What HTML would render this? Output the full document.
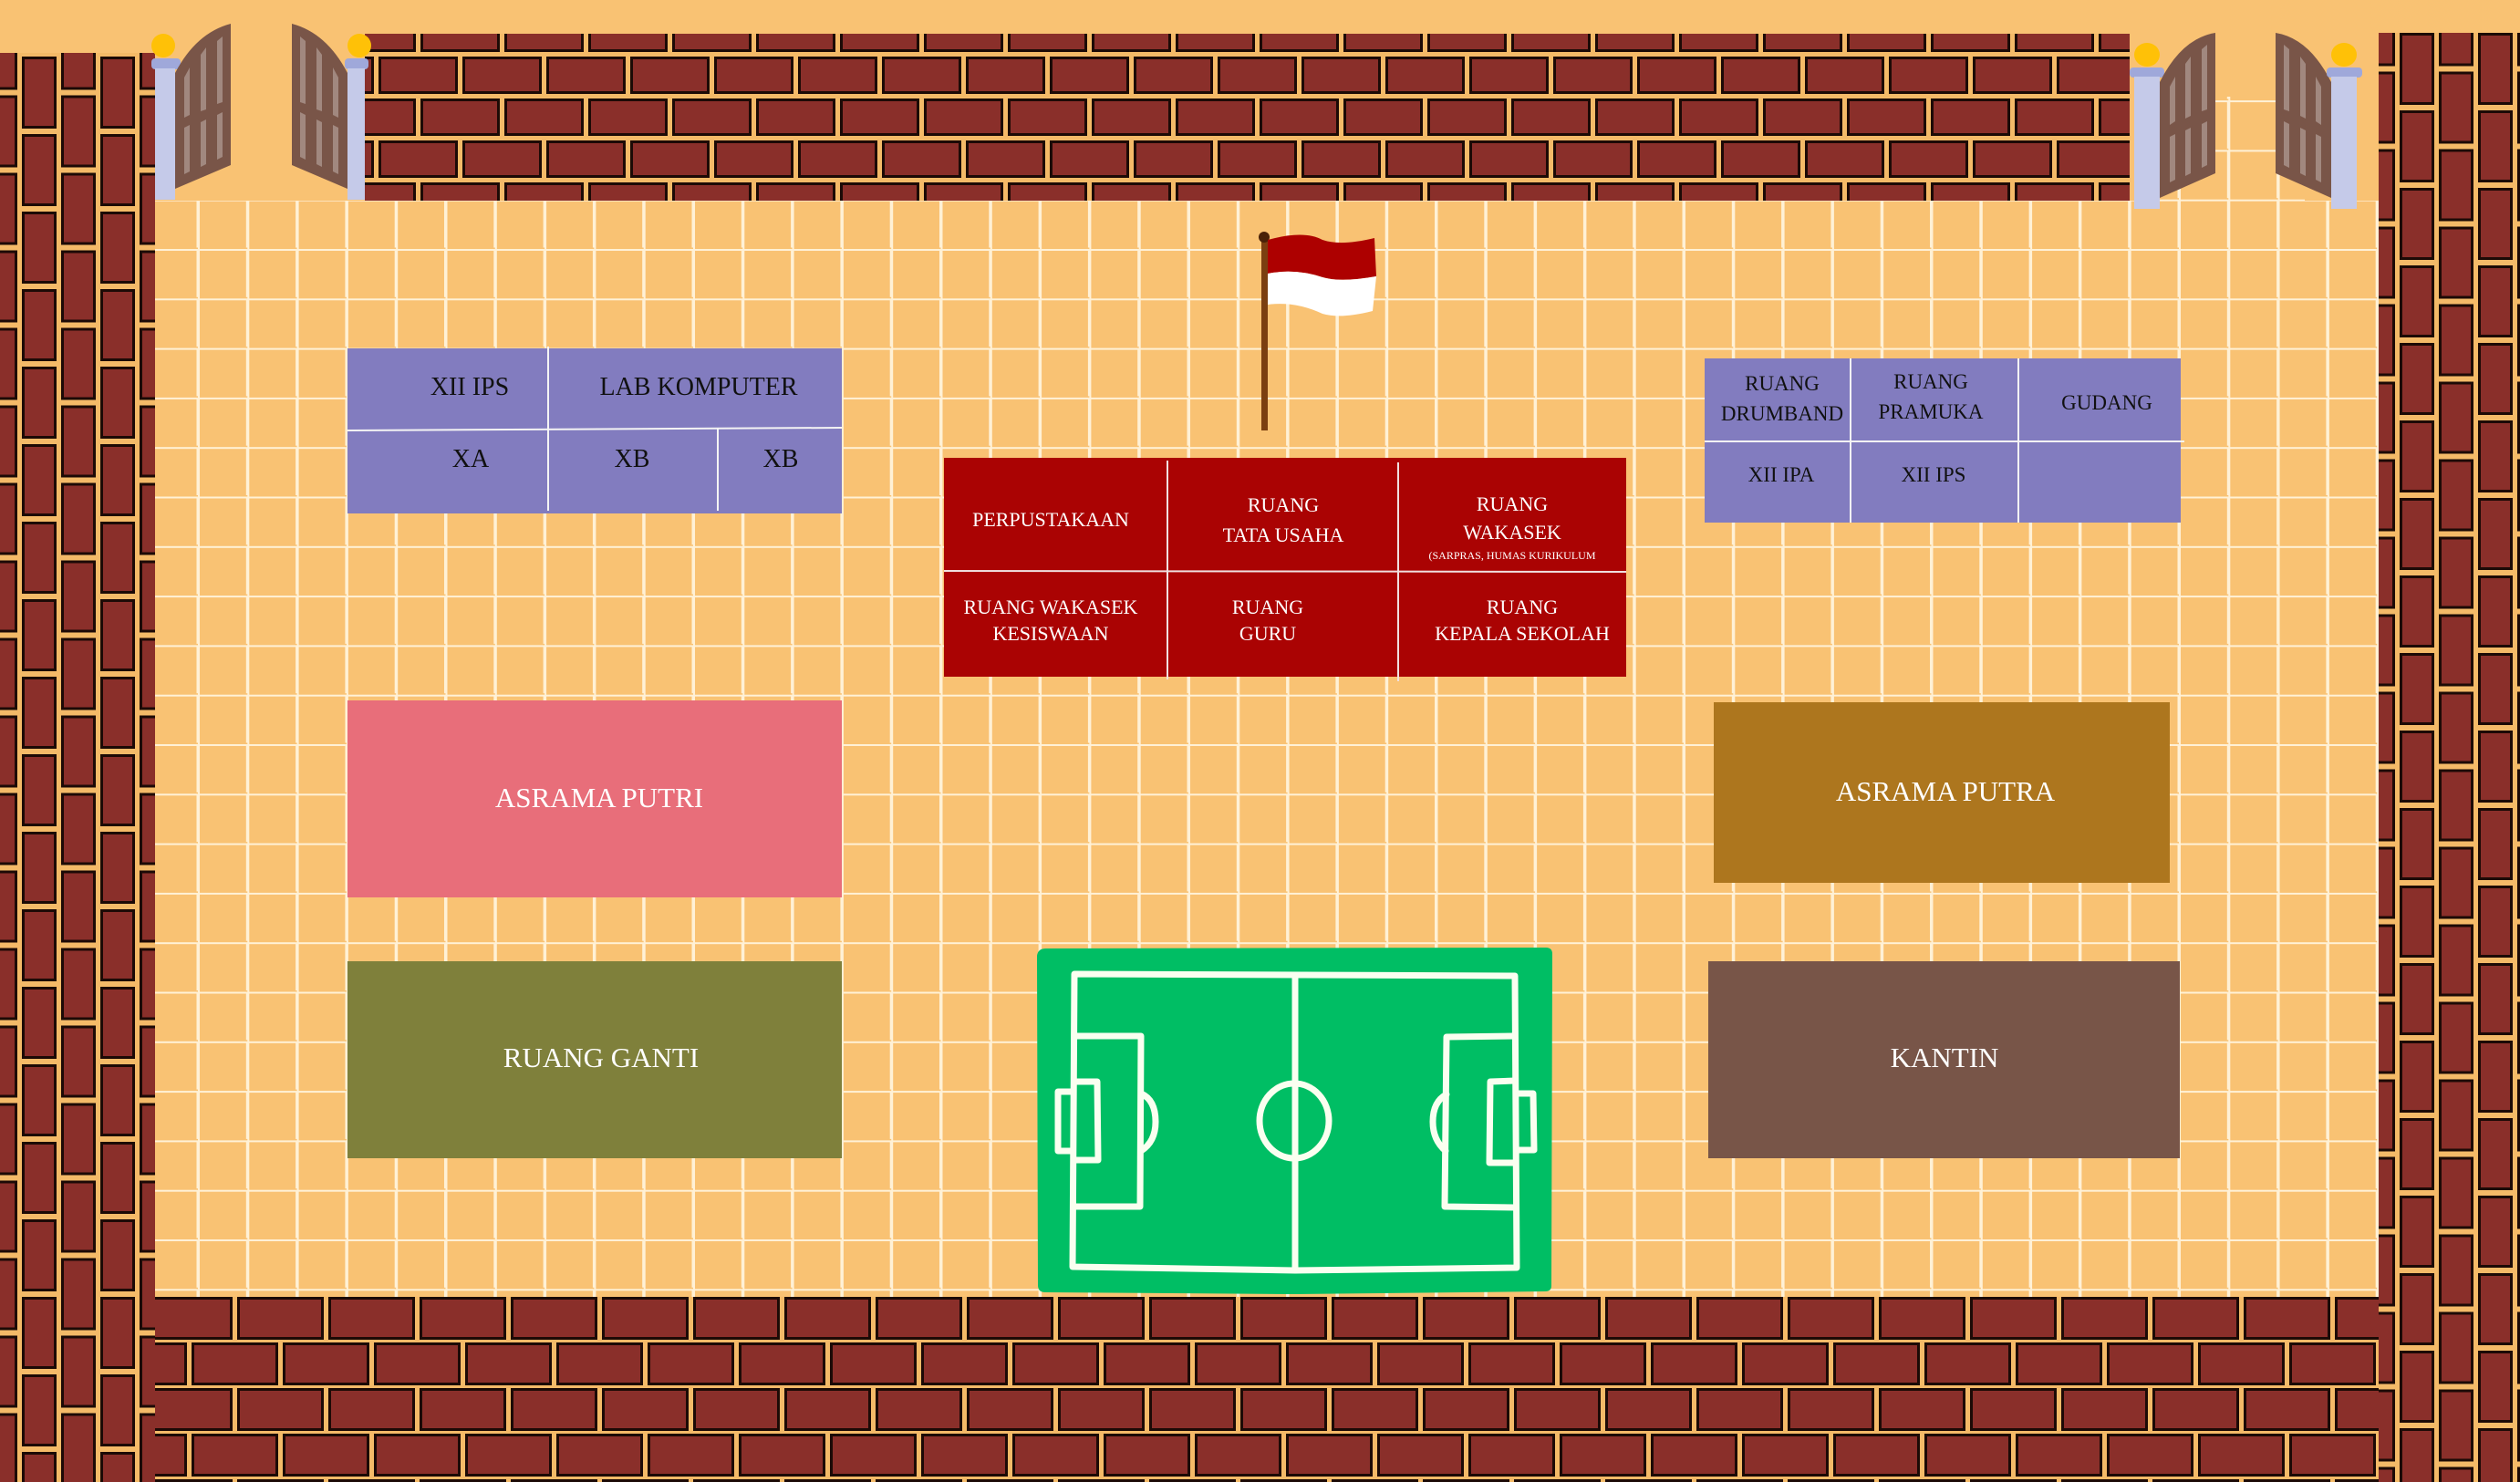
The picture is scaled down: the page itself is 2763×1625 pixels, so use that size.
<!DOCTYPE html>
<html><head><meta charset="utf-8"><style>
html,body{margin:0;padding:0;background:#F9C273;}
svg{display:block}
text{font-family:"Liberation Serif",serif;}
</style></head><body>
<svg width="2763" height="1625" viewBox="0 0 2763 1625" xmlns="http://www.w3.org/2000/svg">
<defs>
<pattern id="grid" x="217" y="273" width="54.3" height="54.3" patternUnits="userSpaceOnUse">
<rect x="0" y="0" width="54.3" height="54.3" fill="#F9C273"/>
<rect x="-1.5" y="0" width="3.5" height="54.3" fill="#FFF1D6"/>
<rect x="0" y="-1.5" width="54.3" height="3.5" fill="#FFF1D6"/>
<rect x="-1.5" y="52.8" width="3.5" height="3" fill="#FFF1D6"/>
<rect x="52.8" y="-1.5" width="3" height="54.3" fill="#FFF1D6"/>
</pattern>
<pattern id="hb" x="415" y="62" width="92" height="92" patternUnits="userSpaceOnUse">
<rect width="92" height="92" fill="#F4BA68"/>
<g fill="#8A2F2A" stroke="#1c0a06" stroke-width="3">
<rect x="1.5" y="1.5" width="84" height="38"/>
<rect x="-44.5" y="47.5" width="84" height="38"/>
<rect x="47.5" y="47.5" width="84" height="38"/>
</g>
</pattern>
<pattern id="vb" x="24" y="62" width="86" height="85" patternUnits="userSpaceOnUse">
<rect width="86" height="85" fill="#F4BA68"/>
<g fill="#8A2F2A" stroke="#1c0a06" stroke-width="3">
<rect x="1.5" y="1.5" width="35" height="76"/>
<rect x="44.5" y="-41" width="35" height="76"/>
<rect x="44.5" y="44" width="35" height="76"/>
</g>
</pattern>
<pattern id="vb2" x="2631" y="36" width="86" height="85" patternUnits="userSpaceOnUse">
<rect width="86" height="85" fill="#F4BA68"/>
<g fill="#8A2F2A" stroke="#1c0a06" stroke-width="3">
<rect x="1.5" y="1.5" width="35" height="76"/>
<rect x="44.5" y="-41" width="35" height="76"/>
<rect x="44.5" y="44" width="35" height="76"/>
</g>
</pattern>
<pattern id="hb2" x="160" y="1422" width="100" height="100" patternUnits="userSpaceOnUse">
<rect width="100" height="100" fill="#F4BA68"/>
<g fill="#8A2F2A" stroke="#1c0a06" stroke-width="3">
<rect x="1.5" y="1.5" width="92" height="44"/>
<rect x="-48.5" y="51.5" width="92" height="44"/>
<rect x="51.5" y="51.5" width="92" height="44"/>
</g>
</pattern>
</defs>
<rect width="2763" height="1625" fill="#F9C273"/>
<!-- grid -->
<rect x="170" y="220" width="2438" height="1202" fill="url(#grid)"/>
<rect x="2368" y="106" width="159" height="114" fill="url(#grid)"/>
<!-- walls -->
<rect x="400" y="37" width="1935" height="183" fill="url(#hb)"/>
<rect x="0" y="58" width="170" height="1567" fill="url(#vb)"/>
<rect x="2608" y="36" width="155" height="1589" fill="url(#vb2)"/>
<rect x="170" y="1422" width="2438" height="203" fill="url(#hb2)"/>

<!-- left gate -->
<g>
<ellipse cx="179" cy="50" rx="13" ry="13" fill="#FFC107"/>
<rect x="166" y="64" width="32" height="12" rx="4" fill="#9FA8DA"/>
<rect x="170" y="75" width="22" height="144" fill="#C5CAE9"/>
<path d="M192 80 Q215 36 253 26 L253 181 L192 207 Z" fill="#795548"/>
<g fill="#A1887F"><path d="M202 85 L208 74 L208 126 L202 129Z"/><path d="M220 60 L226 52 L226 120 L220 122Z"/><path d="M238 45 L244 40 L244 112 L238 114Z"/>
<path d="M202 140 L208 137 L208 188 L202 191Z"/><path d="M220 134 L226 131 L226 180 L220 183Z"/><path d="M238 126 L244 123 L244 172 L238 175Z"/></g>
<path d="M381 80 Q358 36 320 26 L320 181 L381 207 Z" fill="#795548"/>
<g fill="#A1887F"><path d="M371 85 L365 74 L365 126 L371 129Z"/><path d="M353 60 L347 52 L347 120 L353 122Z"/><path d="M335 45 L329 40 L329 112 L335 114Z"/>
<path d="M371 140 L365 137 L365 188 L371 191Z"/><path d="M353 134 L347 131 L347 180 L353 183Z"/><path d="M335 126 L329 123 L329 172 L335 175Z"/></g>
<ellipse cx="394" cy="50" rx="13" ry="13" fill="#FFC107"/>
<rect x="378" y="64" width="26" height="12" rx="4" fill="#9FA8DA"/>
<rect x="381" y="75" width="19" height="144" fill="#C5CAE9"/>
</g>
<!-- right gate -->
<g>
<ellipse cx="2354" cy="60" rx="14" ry="13" fill="#FFC107"/>
<rect x="2335" y="74" width="38" height="11" rx="4" fill="#9FA8DA"/>
<rect x="2340" y="84" width="28" height="145" fill="#C5CAE9"/>
<path d="M2368 90 Q2392 42 2429 36 L2429 190 L2368 217 Z" fill="#795548"/>
<g fill="#A1887F"><path d="M2379 95 L2385 84 L2385 133 L2379 137Z"/><path d="M2396 70 L2402 62 L2402 127 L2396 130Z"/><path d="M2414 54 L2420 49 L2420 120 L2414 122Z"/>
<path d="M2379 150 L2385 147 L2385 197 L2379 200Z"/><path d="M2396 143 L2402 140 L2402 190 L2396 193Z"/><path d="M2414 136 L2420 133 L2420 181 L2414 184Z"/></g>
<path d="M2556 90 Q2532 42 2495 36 L2495 190 L2556 217 Z" fill="#795548"/>
<g fill="#A1887F"><path d="M2545 95 L2539 84 L2539 133 L2545 137Z"/><path d="M2528 70 L2522 62 L2522 127 L2528 130Z"/><path d="M2510 54 L2504 49 L2504 120 L2510 122Z"/>
<path d="M2545 150 L2539 147 L2539 197 L2545 200Z"/><path d="M2528 143 L2522 140 L2522 190 L2528 193Z"/><path d="M2510 136 L2504 133 L2504 181 L2510 184Z"/></g>
<ellipse cx="2570" cy="60" rx="14" ry="13" fill="#FFC107"/>
<rect x="2551" y="74" width="39" height="11" rx="4" fill="#9FA8DA"/>
<rect x="2556" y="84" width="28" height="145" fill="#C5CAE9"/>
</g>

<!-- flag -->
<rect x="1383" y="260" width="7" height="212" fill="#7B3F10"/>
<circle cx="1386" cy="260" r="6" fill="#4A2208"/>
<path d="M1390 263 Q1430 252 1450 263 Q1470 270 1507 261 L1509 303 Q1470 310 1450 304 Q1420 294 1390 300 Z" fill="#AD0000"/>
<path d="M1390 300 Q1420 294 1450 304 Q1470 310 1509 303 L1505 341 Q1470 350 1450 344 Q1420 330 1390 334 Z" fill="#FFFFFF"/>

<!-- left purple -->
<rect x="381" y="382" width="542" height="181" fill="#827CBF"/>
<g stroke="#F4F4F4" stroke-width="2"><line x1="381" y1="472" x2="923" y2="469"/><line x1="601" y1="380" x2="601" y2="560"/><line x1="787" y1="470" x2="787" y2="560"/></g>
<g font-size="28" fill="#111" text-anchor="middle">
<text x="515" y="433">XII IPS</text><text x="766" y="433">LAB KOMPUTER</text>
<text x="516" y="512">XA</text><text x="693" y="512">XB</text><text x="856" y="512">XB</text>
</g>

<!-- right purple -->
<rect x="1869" y="393" width="522" height="180" fill="#827CBF"/>
<g stroke="#F4F4F4" stroke-width="2"><line x1="1869" y1="484" x2="2395" y2="484"/><line x1="2029" y1="393" x2="2029" y2="573"/><line x1="2213" y1="393" x2="2213" y2="573"/></g>
<g font-size="23" fill="#111" text-anchor="middle">
<text x="1954" y="428">RUANG</text><text x="1954" y="461">DRUMBAND</text>
<text x="2117" y="426">RUANG</text><text x="2117" y="459">PRAMUKA</text>
<text x="2310" y="449">GUDANG</text>
<text x="1953" y="528">XII IPA</text><text x="2120" y="528">XII IPS</text>
</g>

<!-- red block -->
<rect x="1035" y="502" width="748" height="240" fill="#AA0303"/>
<g stroke="#F0E0E0" stroke-width="2"><line x1="1035" y1="626" x2="1783" y2="627"/><line x1="1280" y1="505" x2="1280" y2="745"/><line x1="1533" y1="507" x2="1533" y2="747"/></g>
<g font-size="22" fill="#fff" text-anchor="middle">
<text x="1152" y="577">PERPUSTAKAAN</text>
<text x="1407" y="561">RUANG</text><text x="1407" y="594">TATA USAHA</text>
<text x="1658" y="560">RUANG</text><text x="1658" y="591">WAKASEK</text>
<text x="1658" y="613" font-size="12">(SARPRAS, HUMAS KURIKULUM</text>
<text x="1152" y="673">RUANG WAKASEK</text><text x="1152" y="702">KESISWAAN</text>
<text x="1390" y="673">RUANG</text><text x="1390" y="702">GURU</text>
<text x="1669" y="673">RUANG</text><text x="1669" y="702">KEPALA SEKOLAH</text>
</g>

<!-- colored blocks -->
<rect x="381" y="768" width="542" height="216" fill="#E86E7A"/>
<rect x="381" y="1054" width="542" height="216" fill="#7F803B"/>
<rect x="1879" y="770" width="500" height="198" fill="#AD761E"/>
<rect x="1873" y="1054" width="517" height="216" fill="#785548"/>
<g font-size="31" fill="#fff" text-anchor="middle">
<text x="657" y="885">ASRAMA PUTRI</text>
<text x="659" y="1170">RUANG GANTI</text>
<text x="2133" y="878">ASRAMA PUTRA</text>
<text x="2132" y="1170">KANTIN</text>
</g>

<!-- field -->
<path d="M1147 1040 L1695 1039 Q1702 1039 1702 1046 L1701 1410 Q1701 1416 1694 1416 L1420 1419 L1146 1417 Q1138 1417 1138 1409 L1137 1048 Q1138 1040 1147 1040 Z" fill="#00BE64"/>
<g fill="none" stroke="#FAFFF0" stroke-width="7" stroke-linejoin="round" stroke-linecap="round">
<path d="M1178 1068 L1661 1070 L1663 1390 L1420 1393 L1176 1389 Z"/>
<line x1="1420" y1="1069" x2="1420" y2="1392"/>
<ellipse cx="1419" cy="1229" rx="38" ry="41"/>
<path d="M1178 1136 L1251 1136 L1250 1323 L1177 1323"/>
<path d="M1178 1186 L1203 1186 L1204 1272 L1178 1272"/>
<path d="M1176 1197 L1160 1197 L1160 1262 L1176 1262"/>
<path d="M1251 1199 Q1267 1206 1267 1230 Q1267 1252 1251 1262"/>
<path d="M1661 1136 L1586 1137 L1584 1323 L1661 1324"/>
<path d="M1661 1185 L1634 1186 L1633 1275 L1661 1275"/>
<path d="M1663 1199 L1681 1199 L1682 1261 L1663 1261"/>
<path d="M1586 1200 Q1571 1208 1571 1230 Q1571 1250 1585 1262"/>
</g>
</svg>
</body></html>
